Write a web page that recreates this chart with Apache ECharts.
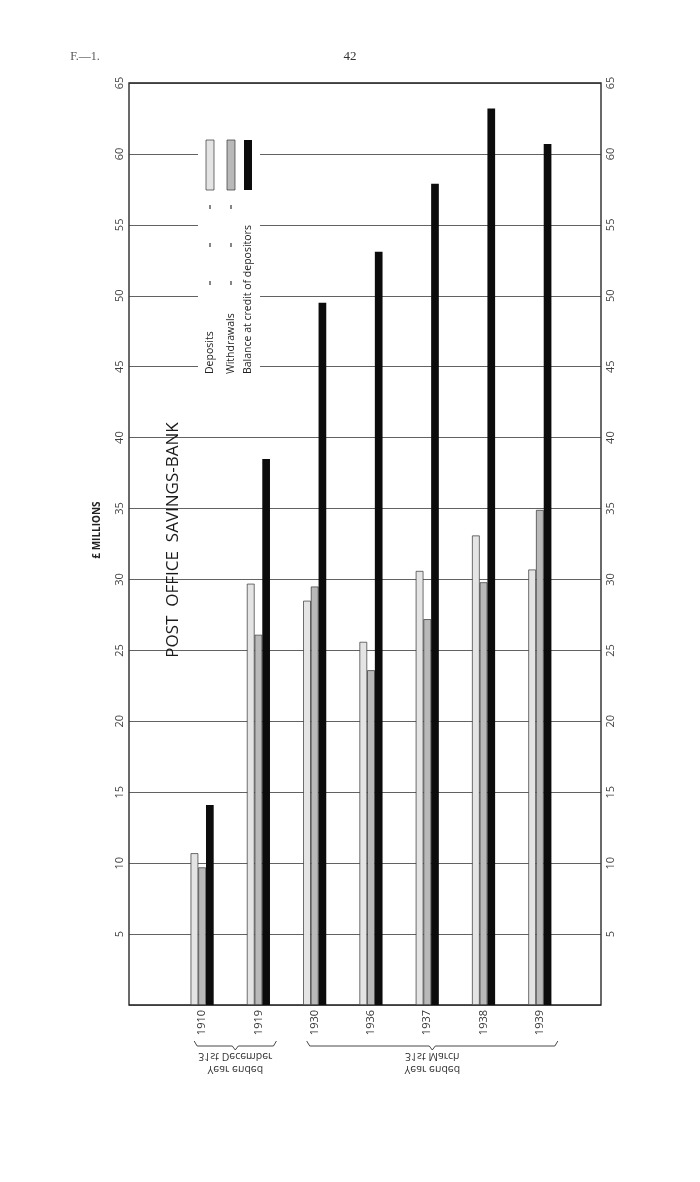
<!DOCTYPE html>
<html>
<head>
<meta charset="utf-8">
<script src="https://cdn.jsdelivr.net/npm/echarts@6/dist/echarts.min.js"></script>
<style>
  html, body { margin: 0; padding: 0; background: #fff; }
  #main { width: 700px; height: 1182px; }
</style>
</head>
<body>
<div id="main"></div>
<script>
// Post Office Savings-Bank, £ millions
const categories = ['1910', '1919', '1930', '1936', '1937', '1938', '1939']
const deposits = [10.7, 29.7, 28.5, 25.6, 30.6, 33.1, 30.7]
const withdrawals = [9.7, 26.1, 29.5, 23.6, 27.2, 29.8, 34.9]
const balance = [14.1, 38.5, 49.5, 53.1, 57.9, 63.2, 60.7]
const valueMin = 0
const valueMax = 65
const valueStep = 5
const legendNames = ['Deposits', 'Withdrawals', 'Balance at credit of depositors']
// brackets under the years: first and last category index of each group
const periods = [
  { label: 'Year ended\n31st December', from: 0, to: 1 },
  { label: 'Year ended\n31st March', from: 2, to: 6 }
]

const FONT = '"Open Sans", "DejaVu Sans", sans-serif'
const colors = ['#e4e4e4', '#b9b9b9', '#0c0c0c']

const chart = echarts.init(document.getElementById('main'))

const bar = (name, data, i) => ({
  name: name,
  type: 'bar',
  xAxisIndex: 1,
  yAxisIndex: 2,
  data: data,
  barWidth: 7.7,
  barGap: '0%',
  itemStyle: {
    color: colors[i],
    borderColor: i === 2 ? '#000' : '#333',
    borderWidth: i === 2 ? 0 : 0.7
  }
})

chart.setOption({
  backgroundColor: '#fff',
  animation: false,
  grid: [
    { left: 129, right: 99, top: 83, bottom: 177, show: true, borderColor: '#1a1a1a', borderWidth: 1.3 },
    { left: 174, right: 132, top: 83, bottom: 177 }
  ],
  xAxis: [
    { type: 'value', gridIndex: 0, min: 0, max: 1, show: false },
    {
      type: 'category', gridIndex: 1, data: categories,
      axisLine: { show: false }, axisTick: { show: false },
      axisLabel: { rotate: 90, margin: 5, fontSize: 11, color: '#333', fontFamily: FONT }
    }
  ],
  yAxis: [
    {
      type: 'value', gridIndex: 0, min: valueMin, max: valueMax, interval: valueStep,
      axisLine: { show: false }, axisTick: { show: false },
      splitLine: { lineStyle: { color: '#3a3a3a', width: 0.8 } },
      axisLabel: {
        rotate: 90, margin: 4, align: 'center', verticalAlign: 'bottom',
        showMinLabel: false, fontSize: 11, color: '#444', fontFamily: FONT
      }
    },
    {
      type: 'value', gridIndex: 0, position: 'right', min: valueMin, max: valueMax, interval: valueStep,
      axisLine: { show: false }, axisTick: { show: false }, splitLine: { show: false },
      axisLabel: {
        rotate: 90, margin: 4, align: 'center', verticalAlign: 'top',
        showMinLabel: false, fontSize: 11, color: '#444', fontFamily: FONT
      }
    },
    { type: 'value', gridIndex: 1, min: valueMin, max: valueMax, interval: valueStep, show: false, splitLine: { show: false } }
  ],
  series: [
    bar(legendNames[0], deposits, 0),
    bar(legendNames[1], withdrawals, 1),
    bar(legendNames[2], balance, 2)
  ]
})

// texts and legend drawn as graphics since they are rotated
const up = Math.PI / 2
const gfx = []
gfx.push({ type: 'text', x: 85, y: 57, z: 10, style: { text: 'F.—1.', font: '12px "Liberation Serif", serif', fill: '#555', textAlign: 'center', textVerticalAlign: 'middle' } })
gfx.push({ type: 'text', x: 350, y: 57, z: 10, style: { text: '42', font: '13px "Liberation Serif", serif', fill: '#333', textAlign: 'center', textVerticalAlign: 'middle' } })
gfx.push({ type: 'text', x: 97, y: 530, rotation: up, z: 10, style: { text: '£ MILLIONS', font: 'bold 10px ' + FONT, fill: '#222', textAlign: 'center', textVerticalAlign: 'middle' } })
gfx.push({ type: 'text', x: 173, y: 540, rotation: up, z: 10, style: { text: 'POST  OFFICE  SAVINGS-BANK', font: '17px ' + FONT, fill: '#1a1a1a', textAlign: 'center', textVerticalAlign: 'middle' } })

// legend block
gfx.push({ type: 'rect', z: 9, shape: { x: 198, y: 128, width: 62, height: 254 }, style: { fill: '#fff' } })
const legendX = [210, 231, 248]
legendNames.forEach((name, i) => {
  gfx.push({ type: 'rect', z: 10, shape: { x: legendX[i] - 4, y: 140, width: 8, height: 50 }, style: { fill: colors[i], stroke: i === 2 ? null : '#333', lineWidth: 0.7 } })
  gfx.push({ type: 'text', x: legendX[i], y: 374, rotation: up, z: 10, style: { text: name, font: '10.5px ' + FONT, fill: '#222', textAlign: 'left', textVerticalAlign: 'middle' } })
  if (i < 2) {
    [283, 245, 207].forEach(y => {
      gfx.push({ type: 'rect', z: 10, shape: { x: legendX[i] - 0.6, y: y - 2, width: 1.2, height: 4 }, style: { fill: '#333' } })
    })
  }
})

// brackets and period captions (mirrored as in the print)
const braceY = 1046
periods.forEach(p => {
  const x1 = chart.convertToPixel({ xAxisIndex: 1 }, categories[p.from]) - 8
  const x2 = chart.convertToPixel({ xAxisIndex: 1 }, categories[p.to]) + 18
  const mid = (x1 + x2) / 2
  gfx.push({
    type: 'polyline', z: 10,
    shape: { points: [[x1, braceY - 5], [x1 + 3, braceY], [mid - 3, braceY], [mid, braceY + 4], [mid + 3, braceY], [x2 - 3, braceY], [x2, braceY - 5]] },
    style: { stroke: '#333', lineWidth: 0.9, fill: null }
  })
  gfx.push({
    type: 'text', x: mid, y: 1062, scaleY: -1, z: 10,
    style: { text: p.label, font: '10.5px ' + FONT, fill: '#333', textAlign: 'center', textVerticalAlign: 'middle', lineHeight: 13 }
  })
})

chart.setOption({ graphic: gfx })
</script>
</body>
</html>
